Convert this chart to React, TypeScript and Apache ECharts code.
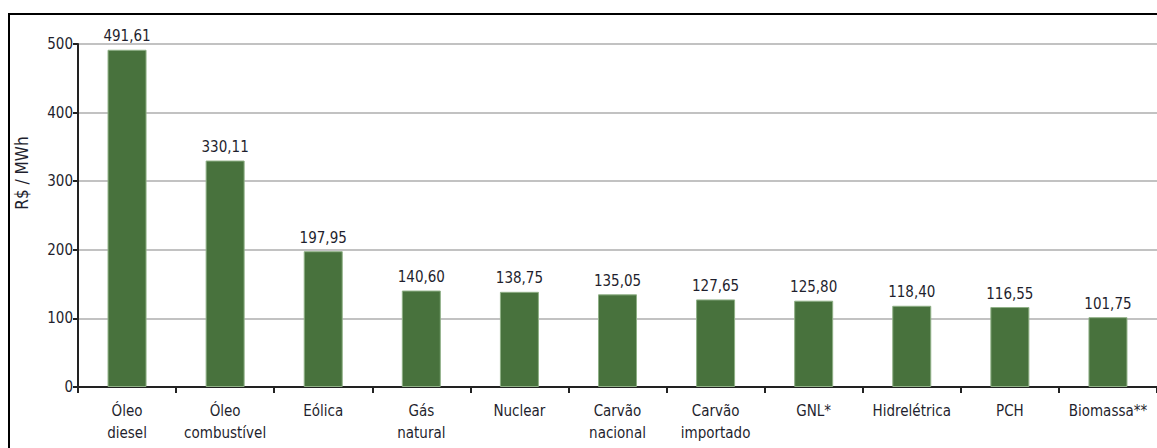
import React, { useEffect, useRef } from "react";
import * as echarts from "echarts";

const categories = [
  "Óleo\ndiesel",
  "Óleo\ncombustível",
  "Eólica",
  "Gás\nnatural",
  "Nuclear",
  "Carvão\nnacional",
  "Carvão\nimportado",
  "GNL*",
  "Hidrelétrica",
  "PCH",
  "Biomassa**",
];
const values = [491.61, 330.11, 197.95, 140.6, 138.75, 135.05, 127.65, 125.8, 118.4, 116.55, 101.75];
const yTicks = [0, 100, 200, 300, 400, 500];
const yTitle = "R$ / MWh";

const FONT = "'Liberation Sans Narrow', 'DejaVu Sans Condensed', 'Liberation Sans', sans-serif";
const TXT = "#1f1f2e";

export default function App() {
  const ref = useRef<HTMLDivElement>(null);
  useEffect(() => {
    if (!ref.current) return;
    const chart = echarts.init(ref.current, null, { renderer: "svg" });
    chart.setOption({
      animation: false,
      backgroundColor: "#ffffff",
      grid: { left: 78, top: 44, bottom: 61, width: 1082, containLabel: false },
      graphic: [
        {
          type: "rect",
          shape: { x: 9, y: 14, width: 1160, height: 450 },
          style: { fill: "none", stroke: "#000", lineWidth: 2 },
          z: 100,
        },
        {
          type: "text",
          x: 22,
          y: 173,
          rotation: Math.PI / 2,
          style: {
            text: yTitle,
            font: `17px ${FONT}`,
            fill: TXT,
            align: "center",
            verticalAlign: "middle",
          },
        },
      ],
      xAxis: {
        type: "category",
        data: categories,
        boundaryGap: true,
        axisLine: { lineStyle: { color: "#222", width: 2 } },
        axisTick: { show: true, length: 6, inside: false, lineStyle: { color: "#222", width: 2 } },
        axisLabel: {
          interval: 0,
          fontFamily: FONT,
          fontSize: 15,
          color: TXT,
          lineHeight: 22,
          margin: 13,
        },
      },
      yAxis: {
        type: "value",
        min: yTicks[0],
        max: yTicks[yTicks.length - 1],
        interval: 100,
        axisLine: { show: true, lineStyle: { color: "#222", width: 2 } },
        axisTick: { show: true, length: 5, lineStyle: { color: "#222", width: 2 } },
        splitLine: { show: true, lineStyle: { color: "#c2c2c2", width: 2 } },
        axisLabel: {
          fontFamily: FONT,
          fontSize: 15,
          color: TXT,
          margin: 5,
        },
      },
      series: [
        {
          type: "bar",
          data: values,
          barWidth: 39,
          itemStyle: { color: "#48723d", borderColor: "#8fb086", borderWidth: 1 },
          label: {
            show: true,
            position: "top",
            distance: 6,
            fontFamily: FONT,
            fontSize: 15,
            color: TXT,
            formatter: (p: any) => Number(p.value).toFixed(2).replace(".", ","),
          },
        },
      ],
    });
    return () => chart.dispose();
  }, []);
  return (
    <div
      ref={ref}
      style={{ position: "fixed", left: 0, top: 0, width: 1157, height: 448 }}
    />
  );
}
